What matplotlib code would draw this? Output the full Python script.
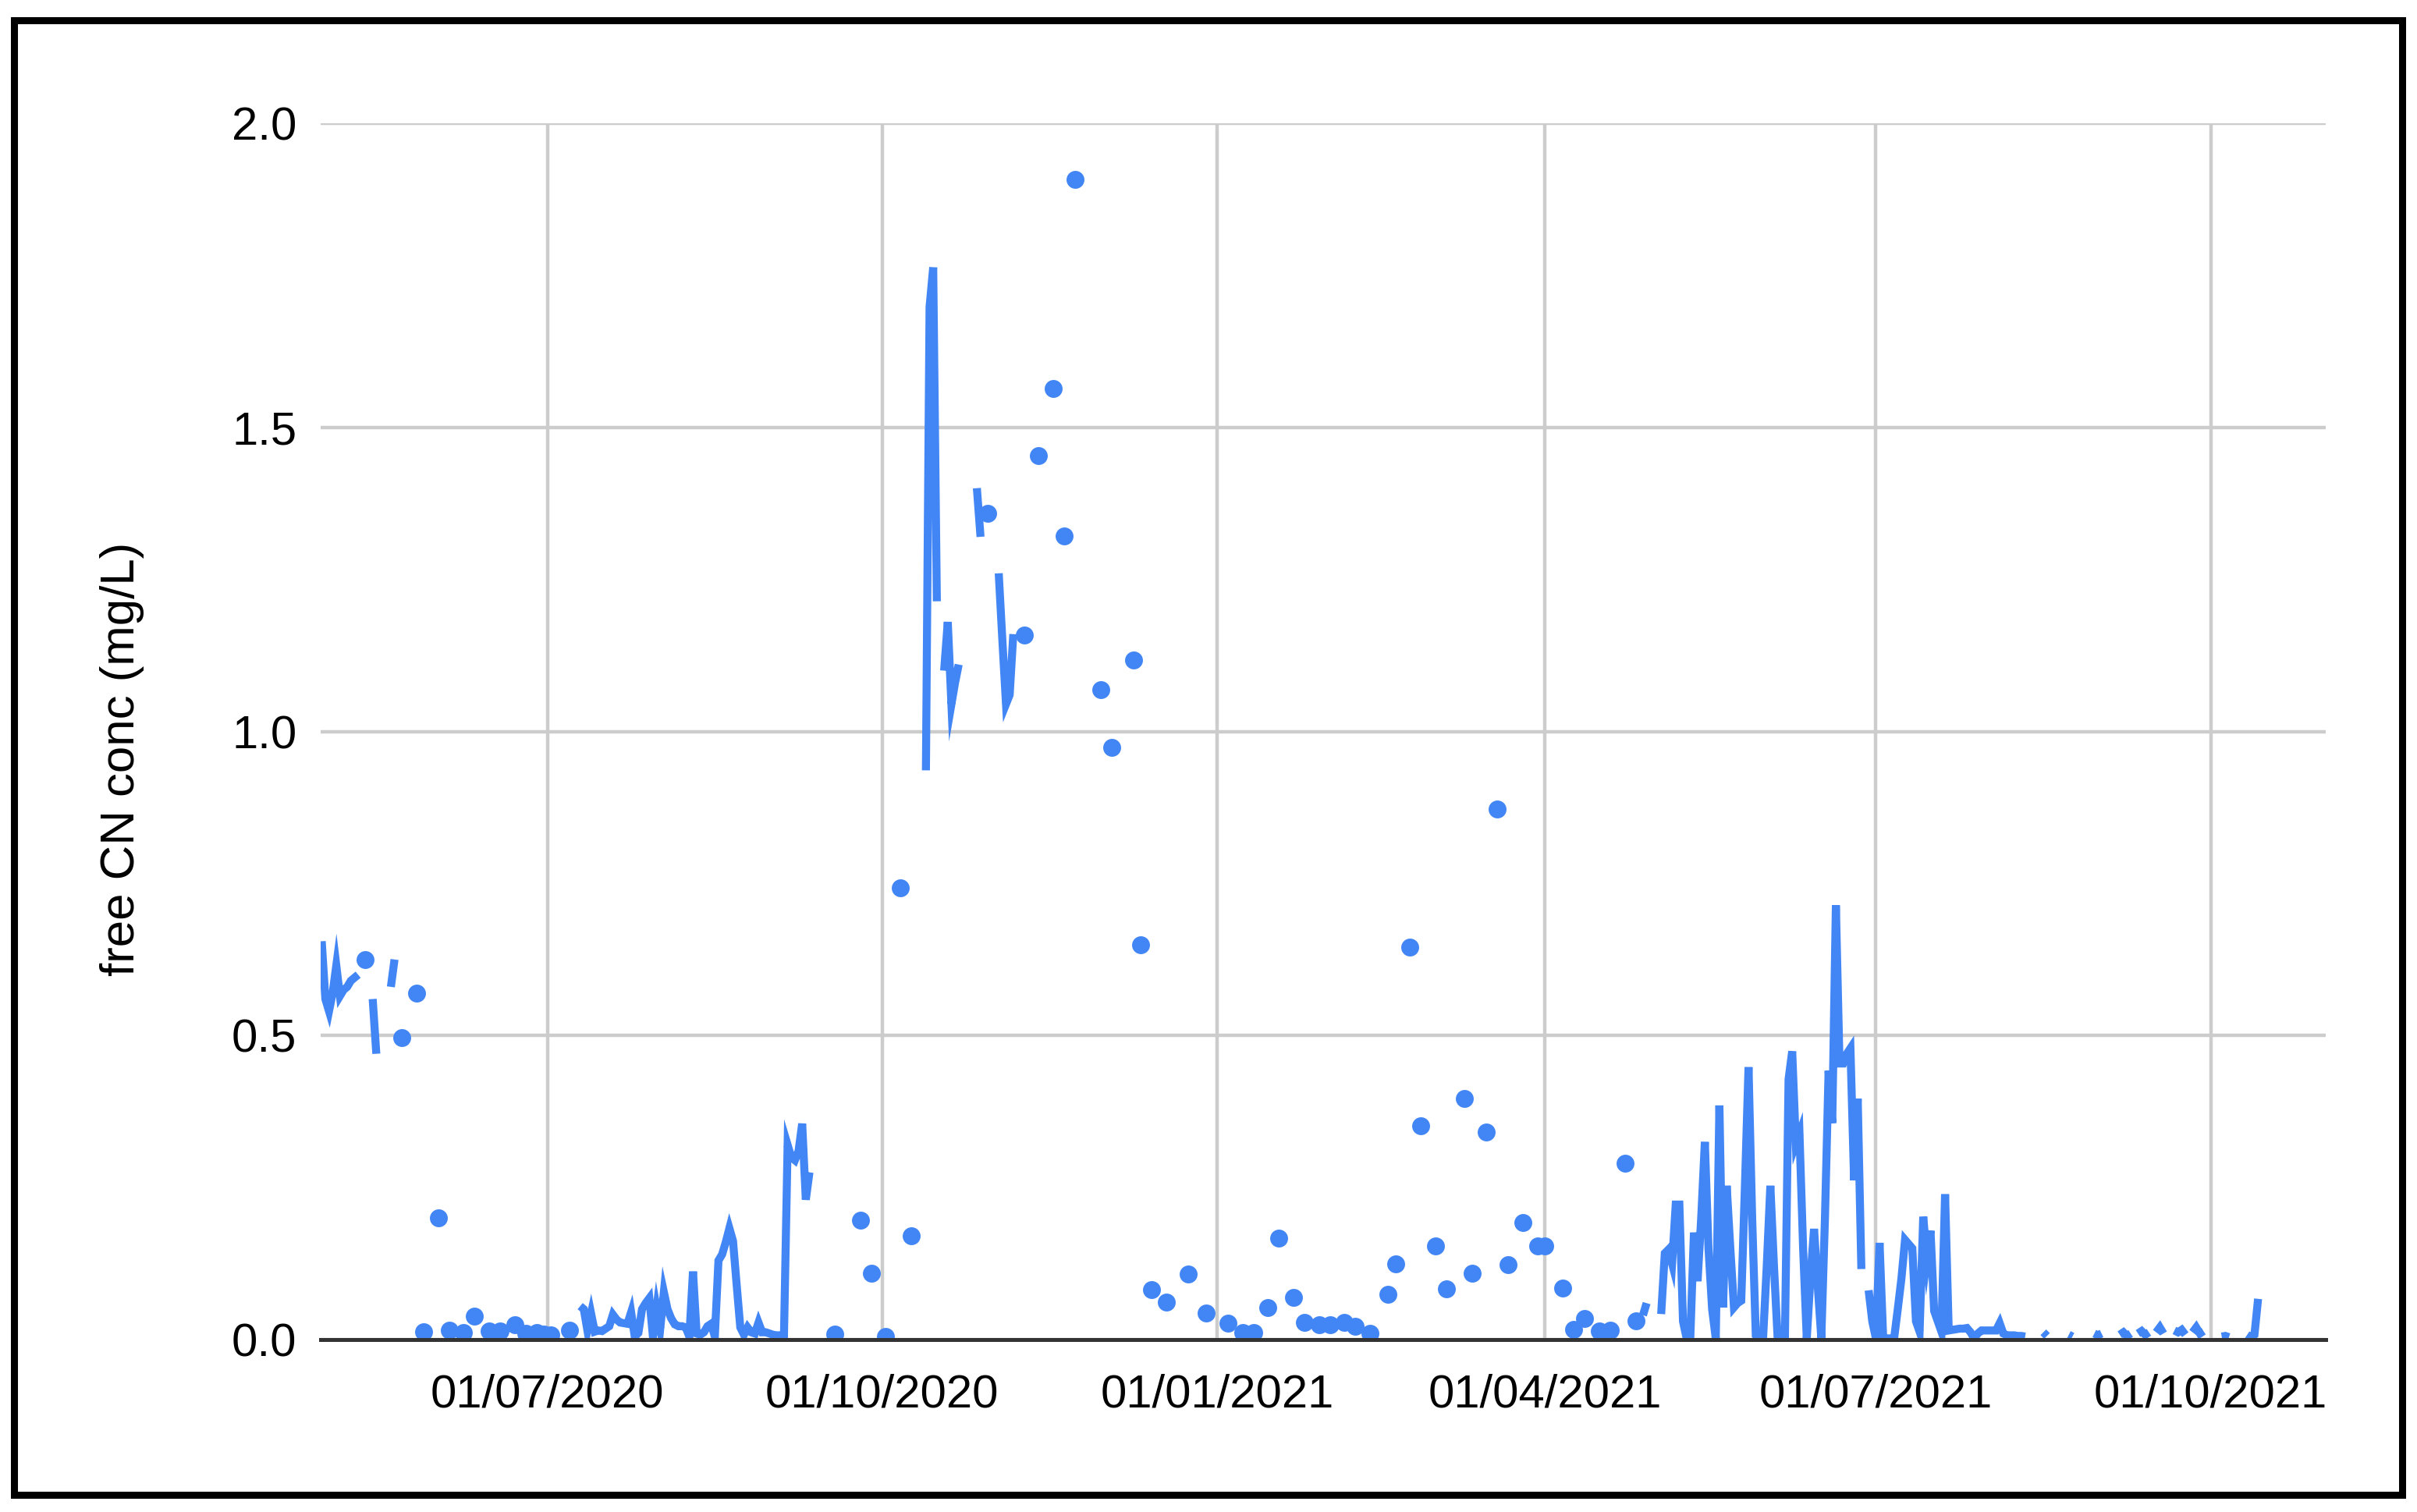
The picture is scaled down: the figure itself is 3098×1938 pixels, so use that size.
import matplotlib
matplotlib.use('Agg')
import matplotlib.pyplot as plt
from matplotlib.patches import Rectangle
import pandas as pd

plt.rcParams['font.family'] = ['Liberation Sans', 'DejaVu Sans']

# Data: daily readings, stored as runs of consecutive days (drawn as lines)
line_starts = ['2020-04-30', '2020-05-14', '2020-05-19', '2020-07-10',
               '2020-10-13', '2020-10-18', '2020-10-27', '2020-11-02',
               '2021-04-28', '2021-05-03', '2021-06-29', '2021-08-16',
               '2021-08-23', '2021-08-30', '2021-09-06', '2021-09-11',
               '2021-09-16', '2021-09-21', '2021-09-26', '2021-10-04',
               '2021-10-11']

line_values = [
    [0.655, 0.56, 0.54, 0.57, 0.615, 0.565, 0.575, 0.58, 0.59, 0.595, 0.60],
    [0.56, 0.47],
    [0.58, 0.625],
    [0.055, 0.05, 0.015, 0.043, 0.013, 0.015, 0.014, 0.018, 0.022, 0.041,
     0.033, 0.028, 0.027, 0.026, 0.045, 0.005, 0.011, 0.05, 0.06, 0.068,
     0.005, 0.052, 0.018, 0.078, 0.05, 0.035, 0.025, 0.022, 0.022, 0.02,
     0.005, 0.112, 0.01, 0.008, 0.012, 0.022, 0.026, 0.005, 0.13, 0.14,
     0.16, 0.183, 0.162, 0.09, 0.02, 0.008, 0.02, 0.012, 0.01, 0.028,
     0.012, 0.012, 0.01, 0.008, 0.007, 0.007, 0.007, 0.32, 0.30, 0.295,
     0.31, 0.355, 0.23, 0.275],
    [0.936, 1.698, 1.763, 1.214],
    [1.10, 1.18, 1.045, 1.08, 1.11],
    [1.40, 1.32],
    [1.26, 1.15, 1.045, 1.06, 1.16],
    [0.04, 0.06],
    [0.042, 0.142, 0.148, 0.125, 0.222, 0.222, 0.03, 0.002, 0.002, 0.176,
     0.096, 0.2, 0.325, 0.15, 0.05, 0.002, 0.385, 0.053, 0.253, 0.15,
     0.053, 0.06, 0.064, 0.25, 0.448, 0.2, 0.007, 0.002, 0.002, 0.12,
     0.253, 0.12, 0.002, 0.002, 0.002, 0.428, 0.474, 0.322, 0.339, 0.15,
     0.002, 0.1, 0.182, 0.09, 0.002, 0.2, 0.442, 0.356, 0.714, 0.454,
     0.454, 0.47, 0.479, 0.262, 0.396, 0.116],
    [0.081, 0.03, 0.002, 0.159, 0.002, 0.002, 0.002, 0.002, 0.05, 0.1,
     0.164, 0.157, 0.15, 0.03, 0.013, 0.202, 0.133, 0.179, 0.047, 0.03,
     0.013, 0.239, 0.015, 0.016, 0.017, 0.018, 0.018, 0.019, 0.012, 0.002,
     0.01, 0.015, 0.015, 0.015, 0.015, 0.015, 0.027, 0.01, 0.007, 0.007,
     0.007, 0.006, 0.006, 0.005],
    [0.012, 0.006],
    [0.008, 0.005],
    [0.01, 0.007, 0.01],
    [0.008, 0.012, 0.006, 0.01],
    [0.01, 0.014, 0.008, 0.012],
    [0.012, 0.02, 0.01],
    [0.015, 0.012, 0.016, 0.008],
    [0.012, 0.02, 0.01, 0.014],
    [0.005, 0.006, 0.004],
    [0.008, 0.004, 0.008, 0.067],
]

# isolated readings (no neighbour on either side) -> drawn as dots
dot_dates = ['2020-05-12', '2020-05-22', '2020-05-26', '2020-05-28', '2020-06-01',
             '2020-06-04', '2020-06-08', '2020-06-11', '2020-06-15', '2020-06-18',
             '2020-06-22', '2020-06-25', '2020-06-28', '2020-06-30', '2020-07-02',
             '2020-07-07', '2020-09-18', '2020-09-25', '2020-09-28', '2020-10-02',
             '2020-10-06', '2020-10-09', '2020-10-30', '2020-11-09', '2020-11-13',
             '2020-11-17', '2020-11-20', '2020-11-23', '2020-11-30', '2020-12-03',
             '2020-12-09', '2020-12-11', '2020-12-14', '2020-12-18', '2020-12-24',
             '2020-12-29', '2021-01-04', '2021-01-08', '2021-01-11', '2021-01-15',
             '2021-01-18', '2021-01-22', '2021-01-25', '2021-01-29', '2021-02-01',
             '2021-02-05', '2021-02-08', '2021-02-12', '2021-02-17', '2021-02-19',
             '2021-02-23', '2021-02-26', '2021-03-02', '2021-03-05', '2021-03-10',
             '2021-03-12', '2021-03-16', '2021-03-19', '2021-03-22', '2021-03-26',
             '2021-03-30', '2021-04-01', '2021-04-06', '2021-04-09', '2021-04-12',
             '2021-04-16', '2021-04-19', '2021-04-23', '2021-04-26']
dot_values = [0.625, 0.496, 0.569, 0.013, 0.2,
              0.016, 0.011, 0.038, 0.014, 0.014,
              0.025, 0.01, 0.011, 0.009, 0.008,
              0.015, 0.009, 0.196, 0.109, 0.005,
              0.743, 0.171, 1.358, 1.159, 1.453,
              1.564, 1.322, 1.908, 1.069, 0.974,
              1.118, 0.649, 0.082, 0.062, 0.108,
              0.043, 0.027, 0.011, 0.011, 0.053,
              0.167, 0.069, 0.028, 0.024, 0.024,
              0.028, 0.022, 0.01, 0.075, 0.124,
              0.645, 0.351, 0.154, 0.084, 0.397,
              0.109, 0.341, 0.872, 0.123, 0.193,
              0.154, 0.154, 0.085, 0.017, 0.035,
              0.014, 0.016, 0.29, 0.031]

tick_dates = ['2020-07-01', '2020-10-01', '2021-01-01', '2021-04-01', '2021-07-01', '2021-10-01']
y_ticks = [0.0, 0.5, 1.0, 1.5, 2.0]

blue = '#4285F4'

fig = plt.figure(figsize=(30.98, 19.38), dpi=100)
ax = fig.add_axes([0.13267, 0.11403, 0.82957, 0.80444])

for start, vals in zip(line_starts, line_values):
    x = pd.date_range(start, periods=len(vals), freq='D')
    ax.plot(x, vals, color=blue, lw=7.4, solid_joinstyle='miter',
            solid_capstyle='butt', zorder=2)

ax.plot(pd.to_datetime(dot_dates), dot_values, 'o', color=blue, ms=16.5,
        mec='none', zorder=2)

ax.set_xlim(pd.Timestamp('2020-04-29 17:00'), pd.Timestamp('2021-11-01 14:00'))
ax.set_ylim(0, 2.0)

ax.set_xticks(pd.to_datetime(tick_dates))
ax.set_xticklabels([pd.Timestamp(d).strftime('%d/%m/%Y') for d in tick_dates])
ax.set_yticks(y_ticks)
ax.set_yticklabels([f'{v:.1f}' for v in y_ticks])

ax.grid(True, color='#cccccc', lw=3.2)
ax.set_axisbelow(True)
ax.axhline(0, color='#333333', lw=3.6, zorder=3, clip_on=False)

for s in ax.spines.values():
    s.set_visible(False)
ax.tick_params(axis='both', length=0, labelsize=43, colors='black')
ax.tick_params(axis='x', pad=31)
ax.tick_params(axis='y', pad=22)

fig.text(157 / 3098, 1 - 973 / 1938, 'free CN conc (mg/L)', rotation=90,
         ha='center', va='center', fontsize=44.5, color='black')

# black frame around the whole chart
fig.add_artist(Rectangle((0.0058, 0.01135), 0.9881, 0.97545, fill=False,
                         lw=6.5, ec='black', transform=fig.transFigure))

fig.savefig('out.png', dpi=100)
